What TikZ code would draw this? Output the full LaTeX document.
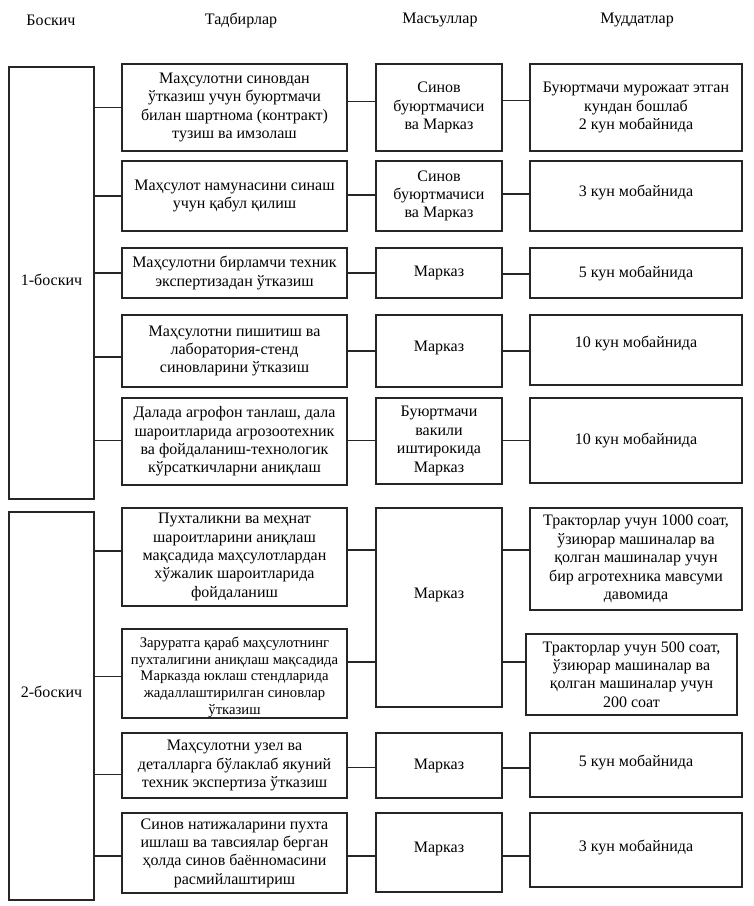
\documentclass[tikz,border=0pt]{standalone}
\usepackage{fontspec}
\setmainfont{Liberation Serif}
\usetikzlibrary{calc}
\newcommand{\mybox}[6]{\node[box,#6,minimum width={(#3-#2)*0.75pt},minimum height={(#5-#4)*0.75pt}] (#1) at ({(#2+#3)/2},{(#4+#5)/2})}
\newcommand{\hconn}[3]{\path ($(#1)+(0,#2)$) coordinate (tmpc); \draw[conn] (tmpc) -- (tmpc -| #3);}
\begin{document}
\begin{tikzpicture}[x=0.75pt,y=-0.75pt,
  box/.style={draw=black!85,line width=1.2pt,rectangle,inner sep=0pt,outer sep=0pt,align=center,font=\fontsize{12pt}{13.8pt}\selectfont},
  head/.style={inner sep=0pt,font=\fontsize{12pt}{13.8pt}\selectfont},
  conn/.style={draw=black!85,line width=0.9pt}]
\useasboundingbox (0,0) rectangle (753,906);
\fill[white] (0,0) rectangle (753,906);
% headers
\node[head] (h1) at (51,20) {Боскич};
\node[head] (h2) at (241,20) {Тадбирлар};
\node[head] (h3) at (440,20) {Масъуллар};
\node[head] (h4) at (637,20) {Муддатлар};
% stages
\mybox{S1}{9}{94}{67}{499}{} {\raisebox{2pt}[\height][\depth]{1-боскич}};
\mybox{S2}{9}{94}{512}{900}{} {\raisebox{10.5pt}[\height][\depth]{2-боскич}};
% activities
\mybox{A1}{122}{347}{64}{151}{} {Маҳсулотни синовдан\\ўтказиш учун буюртмачи\\билан шартнома (контракт)\\тузиш ва имзолаш};
\mybox{A2}{122}{347}{161}{231}{} {Маҳсулот намунасини синаш\\учун қабул қилиш};
\mybox{A3}{122}{347}{248}{298}{} {Маҳсулотни бирламчи техник\\экспертизадан ўтказиш};
\mybox{A4}{122}{347}{315}{387}{} {Маҳсулотни пишитиш ва\\лаборатория-стенд\\синовларини ўтказиш};
\mybox{A5}{122}{347}{398}{485}{} {Далада агрофон танлаш, дала\\шароитларида агрозоотехник\\ва фойдаланиш-технологик\\кўрсаткичларни аниқлаш};
\mybox{A6}{122}{347}{508}{606}{} {Пухталикни ва меҳнат\\шароитларини аниқлаш\\мақсадида маҳсулотлардан\\хўжалик шароитларида\\фойдаланиш};
\mybox{A7}{122}{347}{629}{718}{font=\fontsize{11pt}{12.5pt}\selectfont} {\raisebox{-3pt}[\height][\depth]{\begin{tabular}{@{}c@{}}Заруратга қараб маҳсулотнинг\\пухталигини аниқлаш мақсадида\\Марказда юклаш стендларида\\жадаллаштирилган синовлар\\ўтказиш\end{tabular}}};
\mybox{A8}{122}{347}{733}{798}{} {Маҳсулотни узел ва\\деталларга бўлаклаб якуний\\техник экспертиза ўтказиш};
\mybox{A9}{122}{347}{813}{893}{} {Синов натижаларини пухта\\ишлаш ва тавсиялар берган\\ҳолда синов баённомасини\\расмийлаштириш};
% responsible
\mybox{R1}{376}{502}{64}{151}{} {Синов\\буюртмачиси\\ва Марказ};
\mybox{R2}{376}{502}{161}{231}{} {Синов\\буюртмачиси\\ва Марказ};
\mybox{R3}{376}{502}{248}{298}{} {Марказ};
\mybox{R4}{376}{502}{315}{387}{} {\raisebox{2pt}[\height][\depth]{Марказ}};
\mybox{R5}{376}{502}{398}{484}{} {Буюртмачи\\вакили\\иштирокида\\Марказ};
\mybox{R6}{376}{502}{508}{707}{} {\raisebox{9.4pt}[\height][\depth]{Марказ}};
\mybox{R8}{376}{502}{733}{798}{} {Марказ};
\mybox{R9}{376}{502}{813}{892}{} {\raisebox{3pt}[\height][\depth]{Марказ}};
% durations
\mybox{D1}{530}{742}{64}{151}{} {Буюртмачи мурожаат этган\\кундан бошлаб\\2 кун мобайнида};
\mybox{D2}{530}{742}{161}{231}{} {\raisebox{3pt}[\height][\depth]{3 кун мобайнида}};
\mybox{D3}{530}{742}{248}{298}{} {5 кун мобайнида};
\mybox{D4}{530}{742}{315}{385}{} {\raisebox{5pt}[\height][\depth]{10 кун мобайнида}};
\mybox{D5}{530}{742}{398}{483}{} {10 кун мобайнида};
\mybox{D6}{530}{742}{508}{610}{} {Тракторлар учун 1000 соат,\\ўзиюрар машиналар ва\\қолган машиналар учун\\бир агротехника мавсуми\\давомида};
\mybox{D7}{526}{737}{634}{715}{} {Тракторлар учун 500 соат,\\ўзиюрар машиналар ва\\қолган машиналар учун\\200 соат};
\mybox{D8}{530}{742}{733}{797}{} {\raisebox{2pt}[\height][\depth]{5 кун мобайнида}};
\mybox{D9}{530}{742}{813}{887}{} {\raisebox{2pt}[\height][\depth]{3 кун мобайнида}};
% stage -> activity
\hconn{A1.west}{0}{S1.east}
\hconn{A2.west}{0}{S1.east}
\hconn{A3.west}{0}{S1.east}
\hconn{A4.west}{6}{S1.east}
\hconn{A5.west}{-1}{S1.east}
\hconn{A6.west}{-6}{S2.east}
\hconn{A7.west}{3}{S2.east}
\hconn{A8.west}{9}{S2.east}
\hconn{A9.west}{3}{S2.east}
% activity -> responsible
\hconn{A1.east}{-6}{R1.west}
\hconn{A2.east}{-1}{R2.west}
\hconn{A3.east}{0}{R3.west}
\hconn{A4.east}{0}{R4.west}
\hconn{A5.east}{-1}{R5.west}
\hconn{A6.east}{-7}{R6.west}
\hconn{A7.east}{-11.5}{R6.west}
\hconn{A8.east}{2}{R8.west}
\hconn{A9.east}{3}{R9.west}
% responsible -> duration
\hconn{D1.west}{-7}{R1.east}
\hconn{D2.west}{-2}{R2.east}
\hconn{D3.west}{1}{R3.east}
\hconn{D4.west}{1}{R4.east}
\hconn{D5.west}{0}{R5.east}
\hconn{D6.west}{-9}{R6.east}
\hconn{D7.west}{-12.5}{R6.east}
\hconn{D8.west}{3}{R8.east}
\hconn{D9.west}{6}{R9.east}
\end{tikzpicture}
\end{document}
